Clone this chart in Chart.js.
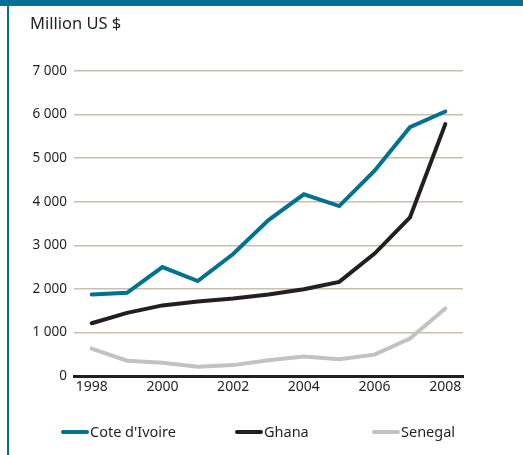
<!DOCTYPE html>
<html>
<head>
<meta charset="utf-8">
<script src="https://cdn.jsdelivr.net/npm/chart.js@4"></script>
<style>
  body { margin: 0; background: #fff; font-family: "Noto Sans", sans-serif; }
  #wrap { position: relative; width: 523px; height: 455px; overflow: hidden; }
  #topbar { position: absolute; left: 0; top: 0; width: 523px; height: 6px; background: #00718f; }
  #leftbar { position: absolute; left: 7px; top: 6px; width: 1.5px; height: 449px; background: #00718f; }
  #title { position: absolute; left: 30px; top: 11px; font-size: 16.5px; color: #231f20; }
  #plot { position: absolute; left: 0; top: 0; }
  .leg { position: absolute; top: 422px; font-size: 14.5px; color: #231f20; line-height: 19px; white-space: nowrap; }
  .leg i { display: inline-block; width: 28px; height: 4px; border-radius: 2px; vertical-align: middle; margin-right: 1px; position: relative; top: -1px; }
</style>
</head>
<body>
<div id="wrap">
  <canvas id="plot" width="523" height="455"></canvas>
  <div id="topbar"></div>
  <div id="leftbar"></div>
  <div id="title">Million US $</div>
  <div id="legend"></div>
</div>
<script>
var years = ['1998', '1999', '2000', '2001', '2002', '2003', '2004', '2005', '2006', '2007', '2008'];
var coteDIvoire = [1870, 1910, 2500, 2180, 2800, 3580, 4170, 3900, 4710, 5710, 6070];
var ghana = [1210, 1450, 1620, 1710, 1780, 1870, 1990, 2160, 2810, 3640, 5780];
var senegal = [630, 350, 305, 215, 250, 360, 450, 385, 490, 860, 1550];
var seriesNames = ["Cote d'Ivoire", 'Ghana', 'Senegal'];
var seriesColors = ['#00718f', '#231f20', '#c2c2c2'];
var legendLeft = [61, 235, 372];

var values = [coteDIvoire, ghana, senegal];

var chart = new Chart(document.getElementById('plot'), {
  type: 'line',
  data: {
    labels: years,
    datasets: values.map(function (v, i) {
      return {
        label: seriesNames[i],
        data: v,
        borderColor: seriesColors[i],
        backgroundColor: seriesColors[i],
        borderWidth: 4,
        pointRadius: 0,
        tension: 0,
        borderCapStyle: 'round',
        borderJoinStyle: 'miter',
      };
    }),
  },
  options: {
    responsive: false,
    animation: false,
    layout: { padding: { top: 71, right: 60, bottom: 0, left: 0 } },
    plugins: { legend: { display: false }, tooltip: { enabled: false } },
    scales: {
      x: {
        offset: true,
        grid: { display: false, drawTicks: false },
        border: { display: true, color: '#231f20', width: 3 },
        ticks: {
          autoSkip: false,
          maxRotation: 0,
          padding: 3,
          color: '#231f20',
          font: { family: 'Noto Sans', size: 14 },
          callback: function (val, idx) { return idx % 2 === 0 ? years[idx] : ''; },
        },
        afterFit: function (s) { s.height = 79; },
      },
      y: {
        min: 0,
        max: 7000,
        grid: { color: '#c9bfae', lineWidth: 1.5, drawTicks: false },
        border: { display: false },
        ticks: {
          stepSize: 1000,
          padding: 7,
          color: '#231f20',
          font: { family: 'Noto Sans', size: 13.5 },
          callback: function (v) { return String(v).replace(/\B(?=(\d{3})+(?!\d))/g, ' '); },
        },
        afterFit: function (s) { s.width = 74; },
      },
    },
  },
});

// legend built from the datasets
var leg = document.getElementById('legend');
chart.data.datasets.forEach(function (ds, i) {
  var d = document.createElement('div');
  d.className = 'leg';
  d.style.left = legendLeft[i] + 'px';
  d.innerHTML = '<i style="background:' + ds.borderColor + '"></i>';
  d.appendChild(document.createTextNode(ds.label));
  leg.appendChild(d);
});
</script>
</body>
</html>
